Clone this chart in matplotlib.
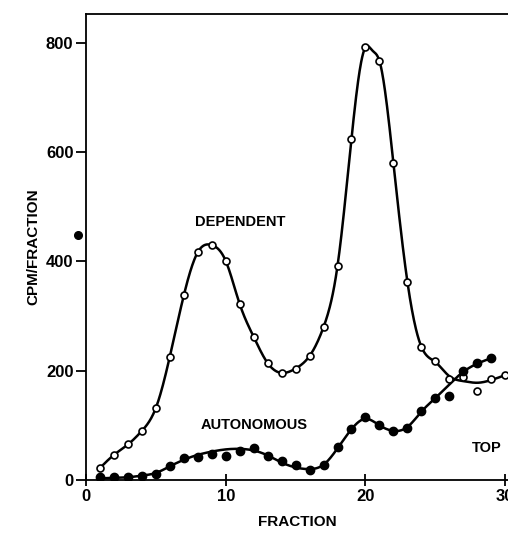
import matplotlib
matplotlib.use('Agg')
import matplotlib.pyplot as plt
import numpy as np

plt.rcParams['font.family'] = ['Liberation Sans', 'DejaVu Sans']

# open circles (dependent)
dep_x = np.arange(1, 31)
dep_y = [22, 46, 65, 90, 132, 226, 338, 417, 430, 401, 322, 262, 214, 196,
         204, 227, 280, 392, 625, 792, 767, 580, 363, 244, 218, 185, 188, 163, 184, 192]
# smooth line drawn through the dependent profile
dep_curve_x = [1, 2, 3, 4, 5, 6, 7, 8, 9, 10, 11, 12, 13, 14, 15, 16, 17, 18, 19,
               19.5, 20, 20.5, 21, 22, 23, 24, 25, 26, 27, 28, 29, 30]
dep_curve = [22, 46, 65, 90, 132, 226, 338, 417, 430, 401, 322, 262, 214, 196,
             204, 227, 280, 392, 625, 735, 792, 786, 767, 580, 363, 244, 216, 190, 181, 178, 183, 192]

# filled circles (autonomous)
aut_x = np.arange(1, 30)
aut_y = [6, 6, 6, 8, 11, 26, 40, 43, 47, 44, 53, 59, 44, 35, 27, 18, 27, 61, 93,
         115, 100, 90, 96, 127, 151, 154, 200, 214, 223]
aut_curve = [3, 4, 5, 8, 13, 25, 37, 46, 52, 56, 57, 54, 45, 32, 23, 20, 28, 58, 93,
             112, 100, 90, 97, 125, 150, 175, 198, 213, 223]

# stray dot left of the axis
stray_x = [-0.57]
stray_y = [449]


def spline(x, y, n=800):
    # natural cubic spline
    x = np.asarray(x, float)
    y = np.asarray(y, float)
    k = len(x)
    h = np.diff(x)
    A = np.zeros((k, k))
    b = np.zeros(k)
    A[0, 0] = 1
    A[-1, -1] = 1
    for i in range(1, k - 1):
        A[i, i - 1] = h[i - 1]
        A[i, i] = 2 * (h[i - 1] + h[i])
        A[i, i + 1] = h[i]
        b[i] = 6 * ((y[i + 1] - y[i]) / h[i] - (y[i] - y[i - 1]) / h[i - 1])
    M = np.linalg.solve(A, b)
    xs = np.linspace(x[0], x[-1], n)
    j = np.clip(np.searchsorted(x, xs) - 1, 0, k - 2)
    t0 = x[j + 1] - xs
    t1 = xs - x[j]
    hj = h[j]
    ys = (M[j] * t0**3 + M[j + 1] * t1**3) / (6 * hj) \
        + (y[j] / hj - M[j] * hj / 6) * t0 + (y[j + 1] / hj - M[j + 1] * hj / 6) * t1
    return xs, ys


fig = plt.figure(figsize=(5.08, 5.35), dpi=100)
ax = fig.add_axes([86 / 508, 55 / 535, 422 / 508, 466 / 535])

xs, ys = spline(dep_curve_x, dep_curve)
ax.plot(xs, ys, color='black', lw=1.8, zorder=2)
xs, ys = spline(aut_x, aut_curve)
ax.plot(xs, ys, color='black', lw=1.8, zorder=2)

ax.plot(dep_x, dep_y, 'o', ms=5, mfc='white', mec='black', mew=1.2, zorder=3)
ax.plot(aut_x, aut_y, 'o', ms=6, mfc='black', mec='black', zorder=3)
ax.plot(stray_x, stray_y, 'o', ms=5.5, color='black', clip_on=False)

ax.text(11.0, 472, 'DEPENDENT', ha='center', va='center', fontsize=10.5, fontweight='bold')
ax.text(12.0, 100, 'AUTONOMOUS', ha='center', va='center', fontsize=10.5, fontweight='bold')
ax.text(28.7, 59, 'TOP', ha='center', va='center', fontsize=10.5, fontweight='bold')

ax.set_xlim(0, 30.2)
ax.set_ylim(0, 853)
ax.set_xticks([0, 10, 20, 30])
ax.set_yticks([0, 200, 400, 600, 800])
ax.spines['right'].set_visible(False)
for s in ['left', 'bottom', 'top']:
    ax.spines[s].set_linewidth(1.3)
ax.tick_params(axis='x', direction='inout', length=9, width=1.3, labelsize=12, pad=2)
ax.tick_params(axis='y', direction='out', length=7, width=1.3, labelsize=12, pad=2)
for lab in ax.get_xticklabels() + ax.get_yticklabels():
    lab.set_fontweight('bold')

ax.set_xlabel('FRACTION', fontsize=11, fontweight='bold', labelpad=8)
ax.set_ylabel('CPM/FRACTION', fontsize=11, fontweight='bold', labelpad=4)

plt.savefig('out.png', dpi=100)
plt.close()
